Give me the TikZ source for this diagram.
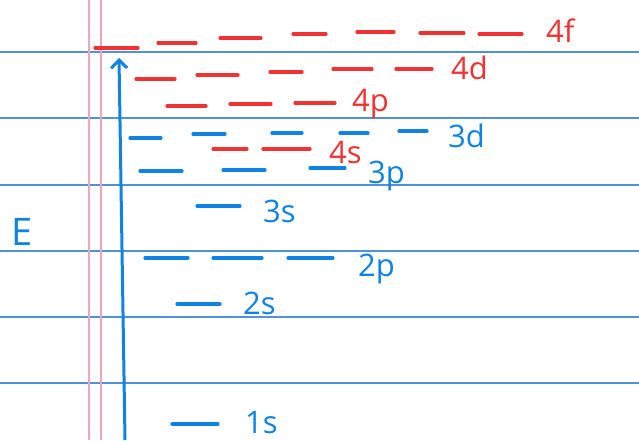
\documentclass[tikz,border=0pt]{standalone}
\usepackage{fontspec}
\setmainfont{Open Sans}
\usetikzlibrary{arrows.meta}
\definecolor{penblue}{RGB}{15,130,230}
\definecolor{penred}{RGB}{240,50,50}
\definecolor{ruleblue}{RGB}{80,145,215}
\definecolor{marginpink}{RGB}{240,165,185}

\begin{document}
\begin{tikzpicture}[x=1pt, y=-1pt,
    level/.style={line width=3.2pt, line cap=round},
    lbl/.style={anchor=base west, inner sep=0pt, font=\fontsize{31}{31}\selectfont}]
    \useasboundingbox (0,0) rectangle (639,440);
    % ruled paper
    \foreach \y in {52,118,185,251,317,383} {
        \draw[ruleblue, line width=2pt] (0,\y) -- (639,\y);
    }
    \draw[marginpink, line width=1.6pt] (89,0) -- (89,440);
    \draw[marginpink, line width=1.6pt] (101,0) -- (101,440);
    % energy axis
    \draw[penblue, line width=3pt, -{Straight Barb[length=8pt,width=16pt,line width=3pt]}] (125,440) -- (119,58);
    \node[penblue, lbl, font=\fontsize{38}{38}\selectfont] (lblE) at (11,245) {E};
    % n = 1, 2, 3 levels (blue)
    \foreach \xa/\xb/\y in {172/218/424, 177/220/304,
        145/188/258, 213/262/258, 288/333/258,
        197/240/206,
        140/182/171, 223/265/170, 310/345/168,
        130/161/138, 193/225/134, 272/302/133, 340/368/133, 399/427/131} {
        \draw[penblue, level] (\xa,\y) -- (\xb,\y);
    }
    % n = 4 levels (red)
    \foreach \xa/\xb/\y in {213/247/149, 263/310/149,
        167/206/106, 230/271/104, 295/335/103,
        136/175/79, 197/238/75, 270/302/72, 333/372/69, 396/432/69,
        95/138/48, 158/196/43, 220/261/38, 293/326/34, 357/394/32, 420/464/33, 479/522/34} {
        \draw[penred, level] (\xa,\y) -- (\xb,\y);
    }
    % labels
    \node[penblue, lbl] (lbl1s) at (245,433) {1s};
    \node[penblue, lbl] (lbl2s) at (243,314) {2s};
    \node[penblue, lbl] (lbl2p) at (358,276) {2p};
    \node[penblue, lbl] (lbl3s) at (263,222) {3s};
    \node[penblue, lbl] (lbl3p) at (368,183) {3p};
    \node[penblue, lbl] (lbl3d) at (448,147) {3d};
    \node[penred, lbl] (lbl4s) at (329,163) {4s};
    \node[penred, lbl] (lbl4p) at (352,111) {4p};
    \node[penred, lbl] (lbl4d) at (451,79) {4d};
    \node[penred, lbl] (lbl4f) at (546,42) {4f};
\end{tikzpicture}
\end{document}
